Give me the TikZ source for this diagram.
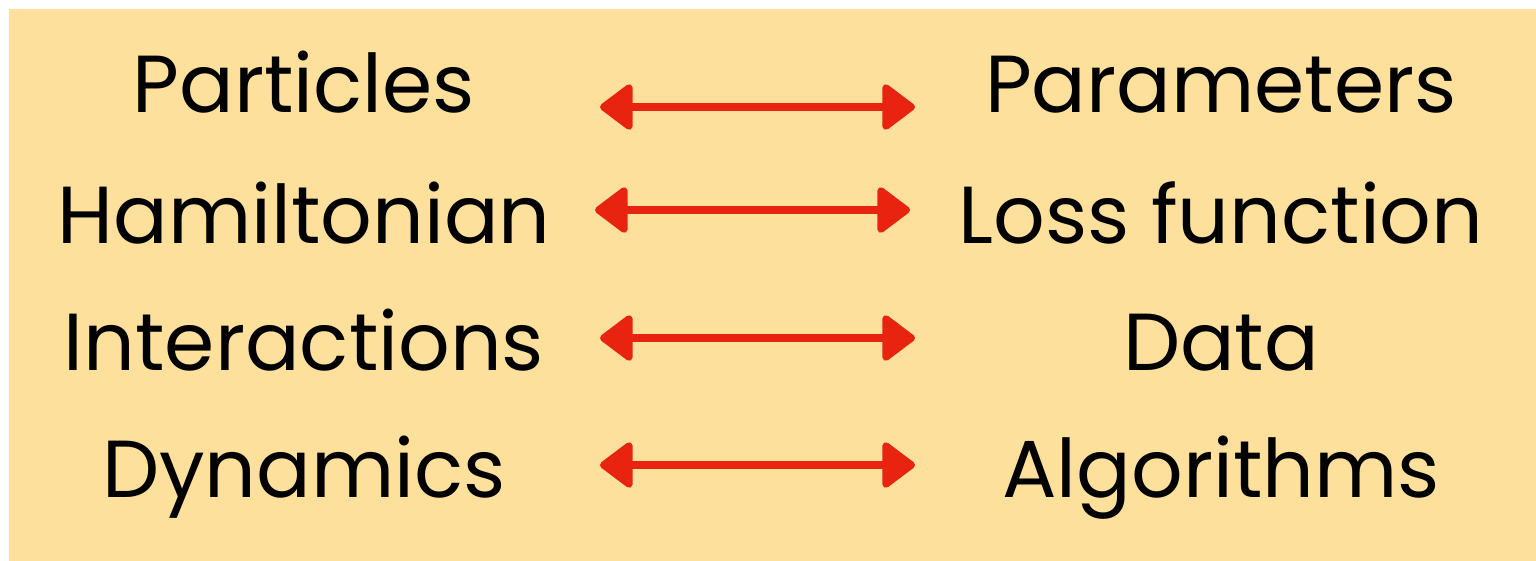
\documentclass[tikz,border=0pt]{standalone}
\usepackage{fontspec}
\setmainfont{Poppins}
\usetikzlibrary{arrows.meta}
\definecolor{bgyellow}{HTML}{FCE09B}
\definecolor{crayonred}{HTML}{E8230F}
\tikzset{
  term/.style={anchor=base, inner sep=0pt, text=black},
  pairarrow/.style={crayonred, line width=2pt, line join=round,
    {Triangle[length=10pt, width=14.5pt, round]}-{Triangle[length=10pt, width=14.5pt, round]}}
}

\begin{document}
\begin{tikzpicture}[x=0.01cm, y=-0.01cm, font=\fontsize{23}{27}\selectfont]
\useasboundingbox (0,0) rectangle (1536,560);
% ---- the backdrop --------------------------------------------------------
\fill[bgyellow] (9,9) rectangle (1545,570);

% ---- physics terms (left) and learning terms (right) ---------------------
\foreach \i/\lft/\rgt/\yb in {1/Particles/Parameters/112,
                              2/Hamiltonian/Loss function/243,
                              3/Interactions/Data/370,
                              4/Dynamics/Algorithms/497}{
  \node[term] (phys\i) at (304,\yb) {\lft};
  \node[term] (ml\i)   at (1221,\yb) {\rgt};
}

% ---- correspondences -----------------------------------------------------
\foreach \i/\xa/\ya in {1/600/107, 2/595/210, 3/600/338, 4/600/465}{
  \coordinate (from\i) at (\xa,\ya);
  \coordinate (to\i)   at (\xa+315,\ya);
  \draw[pairarrow] (from\i) -- (to\i);
}
\end{tikzpicture}
\end{document}
